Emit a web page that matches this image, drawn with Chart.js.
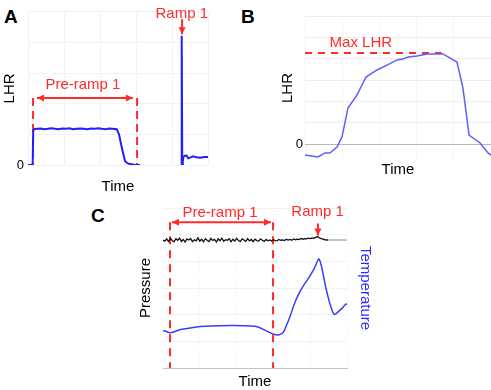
<!DOCTYPE html>
<html>
<head>
<meta charset="utf-8">
<script src="https://cdn.jsdelivr.net/npm/chart.js@4/dist/chart.umd.min.js"></script>
<style>
  html, body { margin: 0; padding: 0; background: #fff; overflow: hidden; }
  body { width: 491px; height: 390px; position: relative; font-family: "Liberation Sans", Arial, sans-serif; }
  canvas { position: absolute; }
  .panel { position: absolute; font-size: 19px; line-height: 19px; font-weight: bold; color: #000; }
</style>
</head>
<body>
<div class="panel" style="left:4px; top:7px;">A</div>
<div class="panel" style="left:241px; top:7px;">B</div>
<div class="panel" style="left:91px; top:206px;">C</div>

<canvas id="chartA" width="215" height="200" style="left:0; top:0;"></canvas>
<canvas id="chartB" width="251" height="180" style="left:240px; top:0;"></canvas>
<canvas id="chartC" width="239" height="192" style="left:136px; top:200px;"></canvas>

<script>
// ---- Panel A: LHR trace (pre-ramp plateau, gap, ramp spike) ----
const timeA = [0, 1.5, 2.6, 2.9, 3.4, 5, 7, 9, 11, 13, 15, 17, 19, 21, 23, 25, 27, 29, 31, 33, 35, 37, 39, 41, 43, 45, 47, 49.3, 50.6, 51.7, 52.9, 53.9, 55.2, 56.7, 59, 62.2,
               63,
               85.2, 85.4, 85.7, 86.0, 86.3, 87.2, 88.1, 89.0, 90.0, 91.9, 93.5, 95.6, 98, 100];
const lhrA  = [0, 0, 0.02, 1.12, 1.17, 1.18, 1.19, 1.17, 1.18, 1.2, 1.18, 1.17, 1.19, 1.18, 1.2, 1.17, 1.18, 1.19, 1.18, 1.17, 1.19, 1.18, 1.2, 1.18, 1.17, 1.19, 1.18, 1.17, 0.99, 0.68, 0.37, 0.13, 0.06, 0.03, 0.01, 0,
               null,
               0, 4.22, 0, 0.12, 0.26, 0.3, 0.31, 0.22, 0.24, 0.28, 0.25, 0.24, 0.26, 0.26];
const preRampA = [2.8, 60.6];   // dashed bounds of pre-ramp 1
const rampA = 85.6;

// ---- Panel B: LHR during a ramp ----
const timeB = [0, 7.0, 10.8, 13.4, 17.2, 19.9, 23.1, 28.0, 32.8, 38.7, 44.1, 49.5, 52.7, 55.4, 60.2, 65.6, 74.2, 76.9, 81.7, 84.9, 88.2, 94.1, 98.4, 100];
const lhrB  = [-0.52, -0.61, -0.42, -0.42, -0.14, 0.33, 1.69, 2.30, 3.14, 3.47, 3.70, 3.94, 3.98, 4.08, 4.13, 4.22, 4.22, 4.08, 3.84, 2.63, 0.42, 0.05, -0.42, -0.52];
const maxLHR = 4.27;
const maxLHRSpan = [0, 73.5];

// ---- Panel C: pressure and temperature ----
const timeP = [0, 1, 2, 3, 4, 5, 6, 7, 8, 9, 10, 11, 12, 13, 14, 15, 16, 17, 18, 19,
               20, 21, 22, 23, 24, 25, 26, 27, 28, 29, 30, 31, 32, 33, 34, 35, 36, 37, 38, 39,
               40, 41, 42, 43, 44, 45, 46, 47, 48, 49, 50, 51, 52, 53, 54, 55, 56, 57, 58, 59,
               60, 61, 62, 63, 64, 65, 66, 67, 68, 69, 70, 71, 72, 73, 74, 75, 76, 77, 78, 79,
               80, 81, 82, 83, 84, 85, 86, 87, 88, 89.7];
const pressure = [4.80, 4.76, 4.84, 4.74, 4.86, 4.78, 4.73, 4.85, 4.79, 4.87, 4.75, 4.82, 4.72, 4.84, 4.80, 4.86, 4.74, 4.81, 4.77, 4.88,
                  4.76, 4.83, 4.73, 4.85, 4.79, 4.74, 4.86, 4.78, 4.82, 4.72, 4.84, 4.77, 4.87, 4.75, 4.81, 4.79, 4.85, 4.73, 4.83, 4.76,
                  4.86, 4.78, 4.74, 4.84, 4.80, 4.75, 4.85, 4.77, 4.82, 4.74, 4.83, 4.78, 4.76, 4.84, 4.79, 4.75, 4.82, 4.77, 4.80, 4.76,
                  4.81, 4.78, 4.77, 4.82, 4.79, 4.80, 4.78, 4.83, 4.80, 4.82, 4.79, 4.84, 4.81, 4.83, 4.82, 4.86, 4.83, 4.85, 4.84, 4.87,
                  4.85, 4.88, 4.86, 4.90, 4.93, 4.88, 4.85, 4.83, 4.81, 4.80];
const timePFlat = [89.7, 100];
const pressureFlat = [4.80, 4.80];
const timeT = [0, 1.1, 3.8, 10.2, 22.8, 50.0, 55.4, 60.0, 62.7, 65.4, 67.2, 69.0, 71.2, 73.5, 76.3, 79.0, 82.1, 84.9, 89.0, 92.9, 96.2, 98.9, 100];
const temperature = [1.39, 1.39, 1.32, 1.45, 1.57, 1.57, 1.42, 1.27, 1.24, 1.34, 1.62, 1.92, 2.37, 2.74, 3.08, 3.36, 3.72, 4.08, 2.86, 2.02, 2.17, 2.36, 2.42];
const preRampC = [3.8, 59.8];
const rampC = 84.2;

const RED = '#ff2b2b';
const FONT = "'Liberation Sans', Arial, sans-serif";
Chart.defaults.font.family = FONT;
Chart.defaults.color = '#000';

function pts(xs, ys) {
  return xs.map((x, i) => ({ x: x, y: ys[i] }));
}

// red annotations: arrows and labels, placed in data units
const notesPlugin = {
  id: 'notes',
  afterDatasetsDraw(chart, args, opts) {
    const ctx = chart.ctx;
    const xs = chart.scales.x, ys = chart.scales.y;
    ctx.save();
    ctx.strokeStyle = RED;
    ctx.fillStyle = RED;
    ctx.lineWidth = 2;
    (opts.arrows || []).forEach(a => {
      const x1 = xs.getPixelForValue(a.from[0]), y1 = ys.getPixelForValue(a.from[1]);
      const x2 = xs.getPixelForValue(a.to[0]), y2 = ys.getPixelForValue(a.to[1]);
      ctx.beginPath();
      ctx.moveTo(x1, y1);
      ctx.lineTo(x2, y2);
      ctx.stroke();
      const heads = a.both ? [[x2, y2, x1, y1], [x1, y1, x2, y2]] : [[x1, y1, x2, y2]];
      heads.forEach(h => {
        const ang = Math.atan2(h[3] - h[1], h[2] - h[0]);
        const len = 7, half = 3.5;
        ctx.beginPath();
        ctx.moveTo(h[2], h[3]);
        ctx.lineTo(h[2] - len * Math.cos(ang) + half * Math.sin(ang), h[3] - len * Math.sin(ang) - half * Math.cos(ang));
        ctx.lineTo(h[2] - len * Math.cos(ang) - half * Math.sin(ang), h[3] - len * Math.sin(ang) + half * Math.cos(ang));
        ctx.closePath();
        ctx.fill();
      });
    });
    ctx.font = '15px ' + FONT;
    ctx.textAlign = 'center';
    ctx.textBaseline = 'middle';
    (opts.labels || []).forEach(t => {
      ctx.fillText(t.text, xs.getPixelForValue(t.x), ys.getPixelForValue(t.y));
    });
    ctx.restore();
  }
};

function faintGrid(extra) {
  return Object.assign({ color: '#f2f2f2', drawTicks: false, lineWidth: 1 }, extra || {});
}

function dashedLine(xs, ys, dash, axis) {
  return {
    data: pts(xs, ys),
    borderColor: RED,
    borderWidth: 2,
    borderDash: dash,
    pointRadius: 0,
    yAxisID: axis || 'y'
  };
}

const baseOpts = {
  responsive: false,
  devicePixelRatio: 1,
  animation: false,
  events: [],
  plugins: { legend: { display: false }, tooltip: { enabled: false } }
};

// ---------- A ----------
new Chart(document.getElementById('chartA'), {
  type: 'line',
  data: {
    datasets: [
      { data: pts(timeA, lhrA), borderColor: '#1f1fff', borderWidth: 2, pointRadius: 0, spanGaps: false },
      dashedLine([preRampA[0], preRampA[0]], [2.19, 0], [8, 5]),
      dashedLine([preRampA[1], preRampA[1]], [2.19, 0], [8, 5])
    ]
  },
  options: Object.assign({}, baseOpts, {
    layout: { padding: { top: 5, right: 7, left: 0, bottom: 0 } },
    scales: {
      x: {
        type: 'linear', min: 0, max: 100,
        ticks: { display: false, stepSize: 20 },
        grid: faintGrid(), border: { display: false },
        title: { display: true, text: 'Time', font: { size: 15 }, padding: { top: 0, bottom: 4.6 } },
        afterFit(s) { s.height = 35; }
      },
      y: {
        min: 0, max: 5,
        ticks: { stepSize: 1, padding: 4, font: { size: 13 }, callback: v => v === 0 ? '0' : '' },
        grid: faintGrid(), border: { display: false },
        title: { display: true, text: 'LHR', font: { size: 15 }, padding: { top: 1, bottom: 0 } },
        afterFit(s) { s.width = 28; }
      }
    },
    plugins: Object.assign({}, baseOpts.plugins, {
      notes: {
        arrows: [
          { from: [5.0, 2.19], to: [58.3, 2.19], both: true },
          { from: [rampA, 4.76], to: [rampA, 4.27] }
        ],
        labels: [
          { text: 'Pre-ramp 1', x: 30.5, y: 2.6 },
          { text: 'Ramp 1', x: 85.4, y: 4.94 }
        ]
      }
    })
  }),
  plugins: [notesPlugin]
});

// ---------- B ----------
new Chart(document.getElementById('chartB'), {
  type: 'line',
  data: {
    datasets: [
      { data: pts(timeB, lhrB), borderColor: '#5f5fff', borderWidth: 1.5, pointRadius: 0 },
      dashedLine(maxLHRSpan, [maxLHR, maxLHR], [7, 6])
    ]
  },
  options: Object.assign({}, baseOpts, {
    layout: { padding: { top: 16, right: 0, left: 0, bottom: 0 } },
    scales: {
      x: {
        type: 'linear', min: 0, max: 100,
        ticks: { display: false, stepSize: 20 },
        grid: faintGrid({ color: '#f5f5f5' }), border: { display: false },
        title: { display: true, text: 'Time', font: { size: 15 }, padding: { top: 0, bottom: 1 } },
        afterFit(s) { s.height = 20; }
      },
      y: {
        min: -0.75, max: 6,
        afterBuildTicks(s) { s.ticks = s.ticks.filter(t => Number.isInteger(t.value)); },
        ticks: { stepSize: 1, padding: 2, font: { size: 13 }, callback: v => v === 0 ? '0' : '' },
        grid: faintGrid({ color: c => c.tick && c.tick.value === 0 ? '#b8b8b8' : '#ededed' }),
        border: { display: false },
        title: { display: true, text: 'LHR', font: { size: 15 }, padding: { top: 38.7, bottom: 0 } },
        afterFit(s) { s.width = 65; }
      }
    },
    plugins: Object.assign({}, baseOpts.plugins, {
      notes: {
        labels: [{ text: 'Max LHR', x: 30, y: 4.75 }]
      }
    })
  }),
  plugins: [notesPlugin]
});

// ---------- C ----------
new Chart(document.getElementById('chartC'), {
  type: 'line',
  data: {
    datasets: [
      { data: pts(timeT, temperature), borderColor: '#3b3bff', borderWidth: 1.5, pointRadius: 0, tension: 0.3, yAxisID: 'y2' },
      { data: pts(timeP, pressure), borderColor: '#111', borderWidth: 1.3, pointRadius: 0 },
      { data: pts(timePFlat, pressureFlat), borderColor: '#888', borderWidth: 1, pointRadius: 0 },
      dashedLine([preRampC[0], preRampC[0]], [5.47, 0], [8, 6]),
      dashedLine([preRampC[1], preRampC[1]], [5.47, 0], [8, 6])
    ]
  },
  options: Object.assign({}, baseOpts, {
    layout: { padding: { top: 8, right: 0, left: 0, bottom: 0 } },
    scales: {
      x: {
        type: 'linear', min: 0, max: 100,
        ticks: { display: false, stepSize: 20 },
        grid: faintGrid(), border: { display: true, color: '#c4c4c4', dash: [1, 2] },
        title: { display: true, text: 'Time', font: { size: 15 }, padding: { top: 0, bottom: 1 } },
        afterFit(s) { s.height = 24; }
      },
      y: {
        min: 0, max: 6,
        ticks: { display: false, stepSize: 1 },
        grid: faintGrid(), border: { display: false },
        title: { display: true, text: 'Pressure', font: { size: 15 }, padding: { top: 0.8, bottom: 0 } },
        afterFit(s) { s.width = 27; }
      },
      y2: {
        position: 'right', min: 0, max: 6,
        ticks: { display: false },
        grid: { display: false }, border: { display: false },
        title: { display: true, text: 'Temperature', color: '#2a2aff', font: { size: 15 }, padding: { top: 1, bottom: 0 } },
        afterFit(s) { s.width = 28; }
      }
    },
    plugins: Object.assign({}, baseOpts.plugins, {
      notes: {
        arrows: [
          { from: [4.9, 5.47], to: [58.7, 5.47], both: true },
          { from: [rampC, 5.42], to: [rampC, 4.97] }
        ],
        labels: [
          { text: 'Pre-ramp 1', x: 31, y: 5.83 },
          { text: 'Ramp 1', x: 84, y: 5.85 }
        ]
      }
    })
  }),
  plugins: [notesPlugin]
});
</script>
</body>
</html>
